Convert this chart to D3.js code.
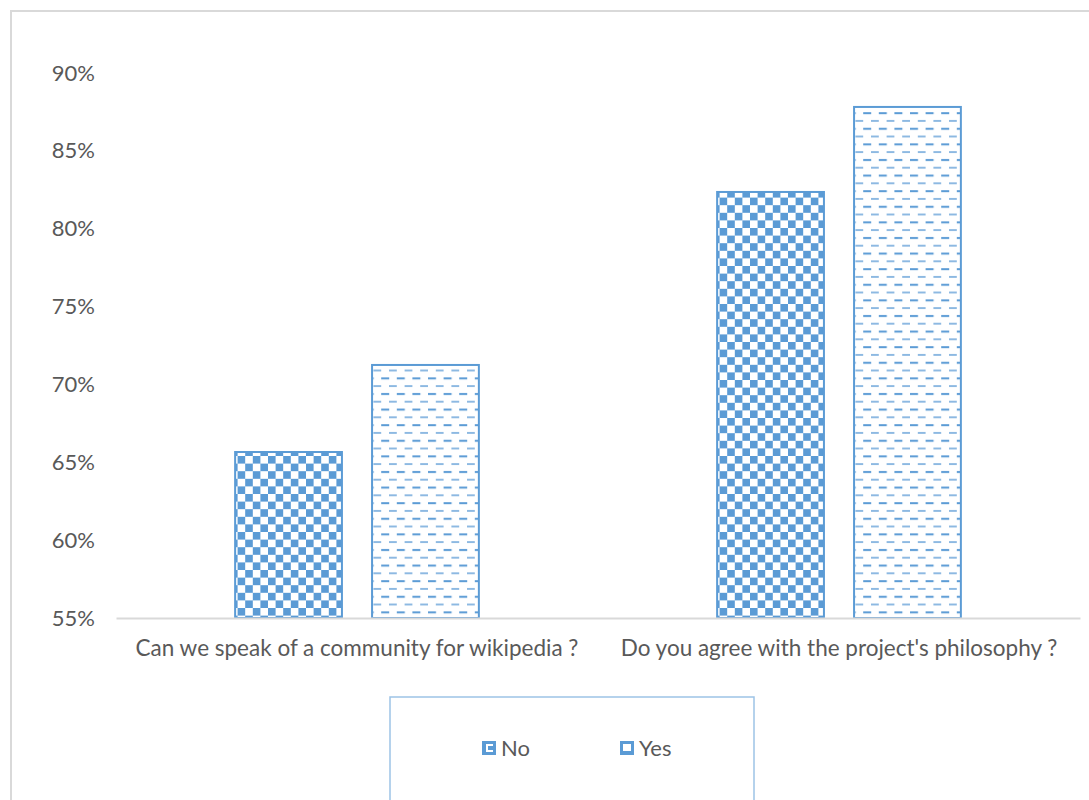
<!DOCTYPE html>
<html>
<head>
<meta charset="utf-8">
<script src="https://cdn.jsdelivr.net/npm/d3@7"></script>
<style>
  body { margin: 0; background: #fff; }
  text { font-family: Lato, "Open Sans", sans-serif; fill: #595959; }
</style>
</head>
<body>
<div id="chart"></div>
<script>
// survey answers, share of respondents
var categories = ["Can we speak of a community for wikipedia ?",
                  "Do you agree with the project's philosophy ?"];
var series = ["No", "Yes"];
var noValues = [0.6566, 0.8236];
var yesValues = [0.7125, 0.8782];
var yTicks = [0.55, 0.60, 0.65, 0.70, 0.75, 0.80, 0.85, 0.90];

var blue = "#5b9bd5";
var width = 1089, height = 800;

var svg = d3.select("#chart")
    .append("svg")
    .attr("width", width)
    .attr("height", height);

// patterns for the two series
var defs = svg.append("defs");

var checker = defs.append("pattern")
    .attr("id", "checker")
    .attr("patternUnits", "userSpaceOnUse")
    .attr("width", 15.2).attr("height", 15.2);
checker.append("rect").attr("width", 15.2).attr("height", 15.2).attr("fill", "#fff");
checker.append("rect").attr("width", 7.6).attr("height", 7.6).attr("fill", blue);
checker.append("rect").attr("x", 7.6).attr("y", 7.6).attr("width", 7.6).attr("height", 7.6).attr("fill", blue);

var dashes = defs.append("pattern")
    .attr("id", "dashes")
    .attr("patternUnits", "userSpaceOnUse")
    .attr("width", 15.6).attr("height", 15.6);
dashes.append("rect").attr("width", 15.6).attr("height", 15.6).attr("fill", "#fff");
dashes.append("rect").attr("x", 0).attr("y", 3).attr("width", 8).attr("height", 2).attr("fill", blue);
dashes.append("rect").attr("x", 7.8).attr("y", 10.8).attr("width", 8).attr("height", 1.8)
    .attr("fill", blue).attr("opacity", 0.75);

var fills = {"No": "url(#checker)", "Yes": "url(#dashes)"};

// chart frame
svg.append("rect")
    .attr("x", 11).attr("y", 11)
    .attr("width", width + 20).attr("height", height + 20)
    .attr("fill", "none")
    .attr("stroke", "#d9d9d9")
    .attr("stroke-width", 2);

// scales
var xScale = d3.scaleBand()
    .domain(categories)
    .range([116, 1080]);

var xInner = d3.scaleBand()
    .domain(series)
    .range([0, xScale.bandwidth()])
    .paddingInner(0.22)
    .paddingOuter(0.87);

var yScale = d3.scaleLinear()
    .domain([0.55, 0.90])
    .range([618, 73]);

// y axis labels
var yAxis = d3.axisLeft(yScale)
    .tickValues(yTicks)
    .tickFormat(d3.format(".0%"))
    .tickSize(0)
    .tickPadding(0);

var yG = svg.append("g")
    .attr("transform", "translate(95,0)")
    .call(yAxis);
yG.select(".domain").remove();
yG.selectAll("text")
    .style("font-size", "22px")
    .style("font-family", "Lato, sans-serif")
    .attr("fill", "#595959");

// bars
var rows = categories.map(function(c, i) {
    return {category: c, values: [
        {key: "No", value: noValues[i]},
        {key: "Yes", value: yesValues[i]}
    ]};
});

var groups = svg.selectAll(".group")
    .data(rows)
    .enter().append("g")
    .attr("class", "group")
    .attr("transform", function(d) { return "translate(" + xScale(d.category) + ",0)"; });

groups.selectAll("rect")
    .data(function(d) { return d.values; })
    .enter().append("rect")
    .attr("x", function(d) { return xInner(d.key); })
    .attr("width", xInner.bandwidth())
    .attr("y", function(d) { return yScale(d.value); })
    .attr("height", function(d) { return yScale(0.55) - yScale(d.value); })
    .attr("fill", function(d) { return fills[d.key]; })
    .attr("stroke", blue)
    .attr("stroke-width", 2);

// x axis
var xAxis = d3.axisBottom(xScale).tickSize(0).tickPadding(22);
var xG = svg.append("g")
    .attr("transform", "translate(0," + yScale(0.55) + ")")
    .call(xAxis);
xG.select(".domain").attr("stroke", "#d9d9d9").attr("stroke-width", 2);
xG.selectAll("text")
    .style("font-size", "22.5px")
    .style("font-family", "Lato, sans-serif")
    .attr("fill", "#595959");

// legend
svg.append("rect")
    .attr("x", 390).attr("y", 697)
    .attr("width", 364).attr("height", 140)
    .attr("fill", "#fff")
    .attr("stroke", "#9dc3e6")
    .attr("stroke-width", 1.5);

var legendX = {"No": 482, "Yes": 620};
var legend = svg.selectAll(".legendItem")
    .data(series)
    .enter().append("g")
    .attr("class", "legendItem")
    .attr("transform", function(d) { return "translate(" + legendX[d] + ",741)"; });

legend.append("rect")
    .attr("width", 14).attr("height", 14)
    .attr("fill", blue);
legend.append("rect")
    .attr("x", function(d) { return d == "No" ? 4 : 3; })
    .attr("y", 3)
    .attr("width", function(d) { return d == "No" ? 7 : 8; })
    .attr("height", function(d) { return d == "No" ? 8 : 7; })
    .attr("fill", "#fff");
legend.append("rect")
    .attr("x", function(d) { return d == "No" ? 6 : 5; })
    .attr("y", 5)
    .attr("width", function(d) { return d == "No" ? 5 : 0; })
    .attr("height", 4)
    .attr("fill", blue);

legend.append("text")
    .attr("x", 19)
    .attr("y", 7)
    .attr("dy", "0.35em")
    .style("font-size", "22px")
    .text(function(d) { return d; });
</script>
</body>
</html>
